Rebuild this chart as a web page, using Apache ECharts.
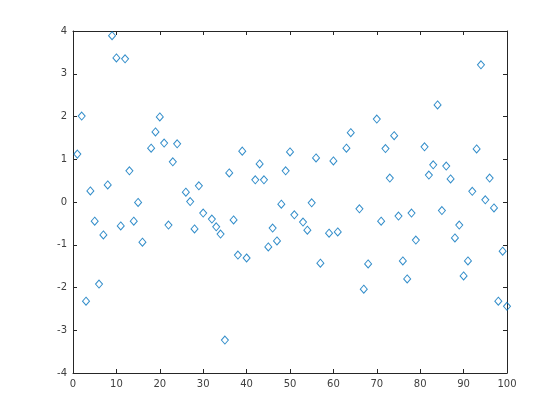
<!DOCTYPE html>
<html>
<head>
<meta charset="utf-8">
<script src="https://cdn.jsdelivr.net/npm/echarts@6/dist/echarts.min.js"></script>
<style>html,body{margin:0;padding:0;background:#fff}#c{width:560px;height:420px}</style>
</head>
<body>
<div id="c"></div>
<script>
var xs = [1,2,3,4,5,6,7,8,9,10,11,12,13,14,15,16,18,19,20,21,22,23,24,26,27,28,29,30,32,33,34,35,36,37,38,39,40,42,43,44,45,46,47,48,49,50,51,53,54,55,56,57,59,60,61,63,64,66,67,68,70,71,72,73,74,75,76,77,78,79,81,82,83,84,85,86,87,88,89,90,91,92,93,94,95,96,97,98,99,100];
var ys = [1.12,2.01,-2.32,0.26,-0.45,-1.92,-0.77,0.40,3.89,3.37,-0.56,3.35,0.73,-0.45,-0.01,-0.94,1.26,1.64,1.99,1.38,-0.54,0.94,1.36,0.23,0.01,-0.63,0.38,-0.26,-0.40,-0.58,-0.75,-3.23,0.68,-0.42,-1.24,1.19,-1.31,0.52,0.89,0.52,-1.05,-0.61,-0.91,-0.05,0.73,1.17,-0.30,-0.47,-0.66,-0.02,1.03,-1.43,-0.73,0.96,-0.70,1.26,1.62,-0.16,-2.04,-1.45,1.94,-0.45,1.25,0.56,1.55,-0.33,-1.38,-1.80,-0.26,-0.89,1.29,0.63,0.87,2.27,-0.20,0.84,0.54,-0.84,-0.54,-1.73,-1.38,0.25,1.24,3.21,0.05,0.56,-0.14,-2.32,-1.15,-2.44];
var xTicks = [0,10,20,30,40,50,60,70,80,90,100];
var yTicks = [-4,-3,-2,-1,0,1,2,3,4];

var pts = xs.map(function(x,i){return [x, ys[i]];});
var axisCol = '#262626';
var labelCol = '#404040';
function mkX(pos, show){
  return {type:'value', position:pos, min:xTicks[0], max:xTicks[xTicks.length-1], interval:10,
    axisLine:{show:true, onZero:false, lineStyle:{color:axisCol, width:1}},
    axisTick:{show:true, inside:true, length:4, lineStyle:{color:axisCol}},
    axisLabel:{show:show, color:labelCol, fontSize:10, fontFamily:'DejaVu Sans', margin:6},
    splitLine:{show:false}};
}
function mkY(pos, show){
  return {type:'value', position:pos, min:yTicks[0], max:yTicks[yTicks.length-1], interval:1,
    axisLine:{show:true, onZero:false, lineStyle:{color:axisCol, width:1}},
    axisTick:{show:true, inside:true, length:4, lineStyle:{color:axisCol}},
    axisLabel:{show:show, color:labelCol, fontSize:10, fontFamily:'DejaVu Sans', margin:6},
    splitLine:{show:false}};
}
var chart = echarts.init(document.getElementById('c'), null, {renderer:'canvas'});
chart.setOption({
  animation:false,
  backgroundColor:'#fff',
  grid:{left:73, right:53, top:31, bottom:47, containLabel:false},
  xAxis:[mkX('bottom', true), mkX('top', false)],
  yAxis:[mkY('left', true), mkY('right', false)],
  series:[{type:'scatter', xAxisIndex:0, yAxisIndex:0, data:pts,
    symbol:'diamond', symbolSize:[7,8],
    itemStyle:{color:'rgba(0,0,0,0)', borderColor:'#0072BD', borderWidth:1}}]
});
</script>
</body>
</html>
